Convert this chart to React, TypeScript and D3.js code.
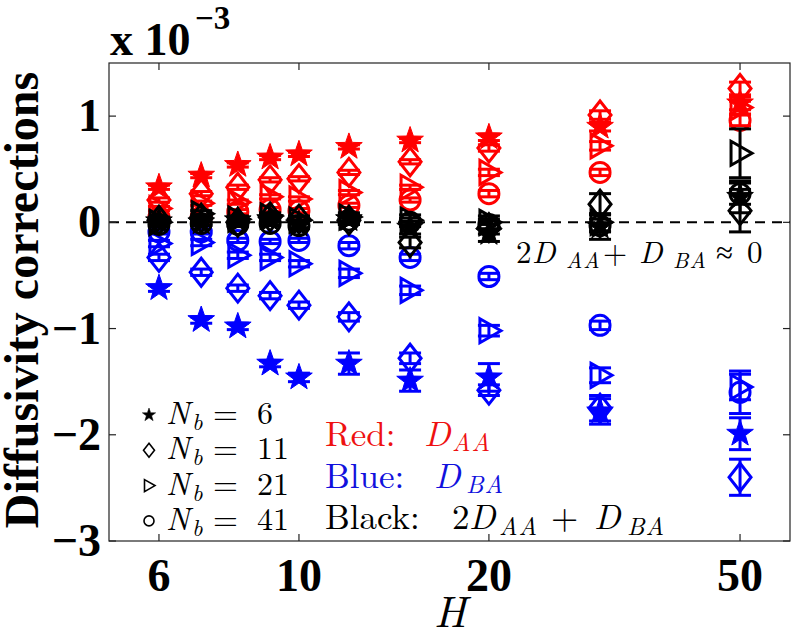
import React from "react";
import * as d3 from "d3";

// ---------------- DATA ----------------
const H = [6, 7, 8, 9, 10, 12, 15, 20, 30, 50];
const xTicks = [6, 10, 20, 50];
const yTicks = [-3, -2, -1, 0, 1];

// Red: D_AA
const redStar = [0.33, 0.44, 0.54, 0.61, 0.64, 0.71, 0.77, 0.8, 0.9, 1.12];
const redDiamond = [0.21, 0.27, 0.33, 0.4, 0.41, 0.47, 0.57, 0.7, 1.01, 1.26];
const redTriangle = [0.13, 0.18, 0.19, 0.24, 0.22, 0.28, 0.33, 0.47, 0.72, 1.08];
const redCircle = [0.05, 0.05, 0.1, 0.12, 0.11, 0.16, 0.21, 0.27, 0.47, 0.96];
const redStarErr = [0.02, 0.02, 0.02, 0.02, 0.02, 0.02, 0.02, 0.03, 0.04, 0.06];
const redDiamondErr = [0.02, 0.02, 0.02, 0.02, 0.02, 0.02, 0.02, 0.03, 0.04, 0.06];
const redTriangleErr = [0.02, 0.02, 0.02, 0.02, 0.02, 0.02, 0.02, 0.03, 0.04, 0.06];
const redCircleErr = [0.02, 0.02, 0.02, 0.02, 0.02, 0.02, 0.02, 0.03, 0.03, 0.05];

// Blue: D_BA
const blueStar = [-0.62, -0.92, -0.98, -1.33, -1.46, -1.33, -1.49, -1.46, -1.78, -1.99];
const blueDiamond = [-0.33, -0.47, -0.62, -0.69, -0.78, -0.89, -1.28, -1.58, -1.75, -2.4];
const blueTriangle = [-0.2, -0.19, -0.31, -0.33, -0.39, -0.48, -0.64, -1.02, -1.44, -1.55];
const blueCircle = [-0.09, -0.09, -0.17, -0.18, -0.17, -0.22, -0.33, -0.51, -0.97, -1.6];
const blueStarErr = [0.03, 0.03, 0.03, 0.03, 0.04, 0.1, 0.1, 0.13, 0.12, 0.15];
const blueDiamondErr = [0.03, 0.03, 0.03, 0.03, 0.03, 0.04, 0.05, 0.05, 0.12, 0.17];
const blueTriangleErr = [0.03, 0.03, 0.03, 0.03, 0.03, 0.04, 0.04, 0.05, 0.07, 0.12];
const blueCircleErr = [0.02, 0.02, 0.02, 0.02, 0.02, 0.03, 0.03, 0.03, 0.04, 0.2];

// Black: 2 D_AA + D_BA
const blackStar = [0.01, 0.0, 0.02, 0.03, -0.02, 0.03, -0.05, -0.1, -0.04, 0.24];
const blackDiamond = [0.02, 0.04, 0.0, 0.05, 0.03, 0.02, -0.19, -0.05, 0.17, 0.11];
const blackTriangle = [0.0, 0.08, 0.03, 0.06, 0.02, 0.05, 0.02, 0.0, 0.0, 0.65];
const blackCircle = [-0.02, -0.01, -0.02, -0.01, -0.03, 0.02, 0.0, -0.02, -0.03, 0.27];
const blackStarErr = [0.03, 0.03, 0.03, 0.03, 0.04, 0.05, 0.06, 0.08, 0.12, 0.15];
const blackDiamondErr = [0.03, 0.03, 0.03, 0.03, 0.03, 0.04, 0.05, 0.06, 0.1, 0.2];
const blackTriangleErr = [0.03, 0.03, 0.03, 0.03, 0.03, 0.04, 0.05, 0.06, 0.08, 0.23];
const blackCircleErr = [0.02, 0.02, 0.02, 0.02, 0.02, 0.03, 0.04, 0.05, 0.06, 0.1];

const legendLabels = ["6", "11", "21", "41"];
const markerKinds = ["star", "diamond", "triangle", "circle"];

// ---------------- LAYOUT ----------------
const W = 792;
const Hh = 632;
const L = 109;
const R = 790;
const T = 63;
const B = 541;

const x = d3.scaleLog().domain([5, 60]).range([L, R]);
const y = d3.scaleLinear().domain([-3, 1.5]).range([B, T]);

const RED = "#ff0000";
const BLUE = "#0000ff";
const BLACK = "#000000";
const SERIF = '"Liberation Serif"';
const TEX = '"Latin Modern Roman"';

function starPath(Ro: number) {
  const ri = Ro * 0.4;
  const pts: [number, number][] = [];
  for (let i = 0; i < 10; i++) {
    const a = -Math.PI / 2 + (i * Math.PI) / 5;
    const rr = i % 2 === 0 ? Ro : ri;
    pts.push([rr * Math.cos(a), rr * Math.sin(a)]);
  }
  return d3.line()(pts.concat([pts[0]])) + "Z";
}
function diamondPath(w: number, h: number) {
  return d3.line()([[0, -h], [w, 0], [0, h], [-w, 0], [0, -h]]) + "Z";
}
function trianglePath(s: number) {
  return d3.line()([[-0.75 * s, -s], [s, 0], [-0.75 * s, s], [-0.75 * s, -s]]) + "Z";
}

function Marker({ kind, cx, cy, color, big }: any) {
  const k = big ? 1 : 0.5;
  const sw = big ? 3 : 1.6;
  if (kind === "star")
    return <path d={starPath(14 * k)} transform={`translate(${cx},${cy})`} fill={color} stroke={color} strokeWidth={big ? 1 : 0.5} />;
  if (kind === "diamond")
    return <path d={diamondPath(11 * k, 14 * k)} transform={`translate(${cx},${cy})`} fill="none" stroke={color} strokeWidth={sw} />;
  if (kind === "triangle")
    return <path d={trianglePath(12 * k)} transform={`translate(${cx},${cy})`} fill="none" stroke={color} strokeWidth={sw} />;
  return <circle cx={cx} cy={cy} r={10 * k} fill="none" stroke={color} strokeWidth={sw} />;
}

function Series({ vals, errs, kind, color }: any) {
  return (
    <g>
      {H.map((h, i) => {
        const cx = x(h);
        const y0 = y(vals[i] - errs[i]);
        const y1 = y(vals[i] + errs[i]);
        return (
          <g key={i}>
            <line x1={cx} x2={cx} y1={y0} y2={y1} stroke={color} strokeWidth={3} />
            <line x1={cx - 11} x2={cx + 11} y1={y0} y2={y0} stroke={color} strokeWidth={3} />
            <line x1={cx - 11} x2={cx + 11} y1={y1} y2={y1} stroke={color} strokeWidth={3} />
            <Marker kind={kind} cx={cx} cy={y(vals[i])} color={color} big />
          </g>
        );
      })}
    </g>
  );
}

// MATLAB-style bold serif text
function Tb({ children, style, ...rest }: any) {
  return (
    <text {...rest} style={{ fontFamily: SERIF, fontWeight: "bold", ...(style || {}) }}>
      {children}
    </text>
  );
}
// LaTeX-style text
function Tx({ children, it, style, ...rest }: any) {
  return (
    <text {...rest} style={{ fontFamily: TEX, fontStyle: it ? "italic" : "normal", ...(style || {}) }}>
      {children}
    </text>
  );
}

export default function App() {
  const groups = [
    { color: RED, vals: [redStar, redDiamond, redTriangle, redCircle], errs: [redStarErr, redDiamondErr, redTriangleErr, redCircleErr] },
    { color: BLUE, vals: [blueStar, blueDiamond, blueTriangle, blueCircle], errs: [blueStarErr, blueDiamondErr, blueTriangleErr, blueCircleErr] },
    { color: BLACK, vals: [blackStar, blackDiamond, blackTriangle, blackCircle], errs: [blackStarErr, blackDiamondErr, blackTriangleErr, blackCircleErr] },
  ];
  const legendBase = 424;
  const legendStep = 35.3;
  return (
    <svg width={W} height={Hh} style={{ position: "absolute", left: 0, top: 0, background: "#fff" }}>
      <rect x={0} y={0} width={W} height={Hh} fill="#fff" />
      <defs>
        <clipPath id="plotclip">
          <rect x={L} y={T} width={R - L} height={B - T} />
        </clipPath>
      </defs>
      {/* dashed zero line */}
      <line x1={L} x2={R} y1={y(0)} y2={y(0)} stroke="#000" strokeWidth={2} strokeDasharray="10,7" />
      <g clipPath="url(#plotclip)">
        {groups.map((g, gi) => (
          <g key={gi}>
            {markerKinds.map((k, ki) => (
              <Series key={ki} vals={g.vals[ki]} errs={g.errs[ki]} kind={k} color={g.color} />
            ))}
          </g>
        ))}
      </g>
      {/* axes box */}
      <rect x={L} y={T} width={R - L} height={B - T} fill="none" stroke="#222" strokeWidth={1.2} />
      {xTicks.map((t) => (
        <g key={t}>
          <line x1={x(t)} x2={x(t)} y1={B} y2={B - 7} stroke="#222" strokeWidth={1.2} />
          <line x1={x(t)} x2={x(t)} y1={T} y2={T + 7} stroke="#222" strokeWidth={1.2} />
          <Tb x={x(t)} y={591} textAnchor="middle" fontSize={46}>{t}</Tb>
        </g>
      ))}
      {yTicks.map((t) => (
        <g key={t}>
          <line x1={L} x2={L + 7} y1={y(t)} y2={y(t)} stroke="#222" strokeWidth={1.2} />
          <line x1={R} x2={R - 7} y1={y(t)} y2={y(t)} stroke="#222" strokeWidth={1.2} />
          <Tb x={101} y={y(t) + 15} textAnchor="end" fontSize={46}>{t < 0 ? "\u2212" + Math.abs(t) : t}</Tb>
        </g>
      ))}
      {/* multiplier */}
      <Tb x={110} y={55} fontSize={46}>x 10</Tb>
      <Tb x={195} y={29} fontSize={33}>{"\u22123"}</Tb>
      {/* axis labels */}
      <Tb transform="translate(38,300) rotate(-90)" textAnchor="middle" fontSize={48}>Diffusivity corrections</Tb>
      <Tx it x={450} y={627} textAnchor="middle" fontSize={44}>H</Tx>

      {/* legend of marker shapes */}
      {markerKinds.map((k, i) => {
        const by = legendBase + i * legendStep;
        return (
          <g key={k}>
            <Marker kind={k} cx={149} cy={by - 9} color="#000" big={false} />
            <Tx it x={166} y={by} fontSize={32}>N</Tx>
            <Tx it x={192} y={by + 6} fontSize={23}>b</Tx>
            <Tx x={213} y={by} fontSize={32}>=</Tx>
            <Tx x={257} y={by} fontSize={32}>{legendLabels[i]}</Tx>
          </g>
        );
      })}

      {/* colour legend */}
      <Tx x={325} y={446} fontSize={35} fill="#e11">Red:</Tx>
      <Tx it x={424} y={446} fontSize={35} fill="#e11">D</Tx>
      <Tx it x={452} y={451} fontSize={25} fill="#e11" letterSpacing={1}>AA</Tx>

      <Tx x={325} y={488} fontSize={35} fill="#11d">Blue:</Tx>
      <Tx it x={434} y={488} fontSize={35} fill="#11d">D</Tx>
      <Tx it x={466} y={493} fontSize={25} fill="#11d" letterSpacing={1}>BA</Tx>

      <Tx x={325} y={529} fontSize={35} fill="#000">Black:</Tx>
      <Tx x={452} y={529} fontSize={35} fill="#000">2</Tx>
      <Tx it x={469} y={529} fontSize={35} fill="#000">D</Tx>
      <Tx it x={499} y={535} fontSize={25} fill="#000" letterSpacing={1}>AA</Tx>
      <Tx x={551} y={529} fontSize={35} fill="#000">+</Tx>
      <Tx it x={594} y={529} fontSize={35} fill="#000">D</Tx>
      <Tx it x={627} y={535} fontSize={25} fill="#000" letterSpacing={1}>BA</Tx>

      {/* annotation */}
      <Tx x={516} y={263} fontSize={31}>2</Tx>
      <Tx it x={532} y={263} fontSize={31}>D</Tx>
      <Tx it x={566} y={268} fontSize={22} letterSpacing={1}>AA</Tx>
      <Tx x={603} y={263} fontSize={31}>+</Tx>
      <Tx it x={639} y={263} fontSize={31}>D</Tx>
      <Tx it x={673} y={268} fontSize={22} letterSpacing={1}>BA</Tx>
      <Tx x={716} y={263} fontSize={31}>{"\u2248"}</Tx>
      <Tx x={747} y={263} fontSize={31}>0</Tx>
    </svg>
  );
}
